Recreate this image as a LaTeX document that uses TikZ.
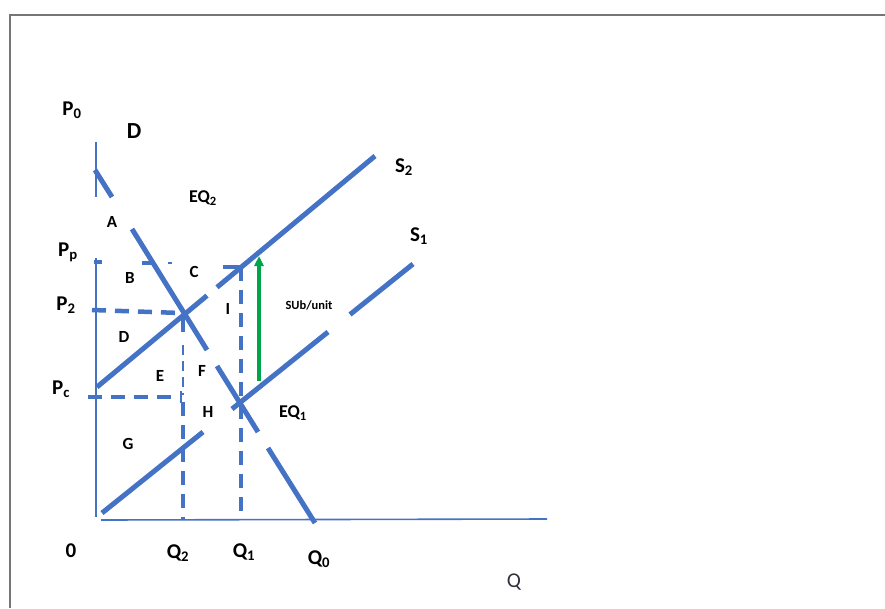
\documentclass[tikz,border=0pt]{standalone}
\usepackage{fontspec}
\setmainfont{Carlito}
\usetikzlibrary{arrows.meta}
\definecolor{ob}{RGB}{68,114,196}
\definecolor{fr}{RGB}{118,118,118}
\definecolor{gr}{RGB}{0,165,75}
\definecolor{qcol}{RGB}{50,50,60}
\begin{document}
\begin{tikzpicture}[x=1pt,y=-1pt,
  curve/.style={ob, line width=5pt},
  axisline/.style={ob, line width=1.6pt},
  dsh/.style={ob, line width=4.5pt, dash pattern=on 14pt off 9pt},
  thindsh/.style={ob, line width=1.6pt, dash pattern=on 10pt off 6pt},
  lab/.style={font=\fontsize{17}{19}\selectfont\bfseries, inner sep=0pt},
  biglab/.style={font=\fontsize{21}{24}\selectfont\bfseries, inner sep=0pt},
  smalllab/.style={font=\fontsize{12.5}{14}\selectfont\bfseries, inner sep=0pt},
]
\useasboundingbox (0,0) rectangle (885,608);
% outer frame
\draw[fr, line width=2pt] (9.5,608) -- (9.5,14.5) -- (885,14.5);

% axes
\draw[axisline] (96,142) -- (96,197);
\draw[axisline] (96,258) -- (96,517);
\draw[axisline] (101,520) -- (547,519);

% dashed guide lines
\draw[ob, line width=4.5pt] (94,262) -- (102,262);
\draw[ob, line width=4.5pt] (142,263) -- (155,263);
\draw[ob, line width=2pt] (168,263) -- (172,263);
\draw[ob, line width=4.5pt] (223,267) -- (241,267);
\draw[dsh] (92,310) -- (181,313);
\draw[dsh] (88,397) -- (181,397);
\draw[ob, line width=2pt] (181,391) -- (181,403);
\draw[ob, line width=4.5pt] (183,318) -- (183,332);
\draw[thindsh] (183,345) -- (183,395);
\draw[dsh] (183,402) -- (183,519);
\draw[dsh] (241,267) -- (241,519);

% demand curve D
\draw[curve] (95,170) -- (112,197);
\draw[curve] (132,229) -- (207,350);
\draw[curve] (217,366) -- (258,432);
\draw[curve] (268,448) -- (315,523);

% supply curve S2
\draw[curve] (97,387) -- (207,295.6);
\draw[curve] (217,287.3) -- (375,156);

% supply curve S1
\draw[curve] (102,513) -- (203,432);
\draw[curve] (232,409) -- (328,332);
\draw[curve] (350,314.5) -- (413,264);

% subsidy arrow
\draw[gr, line width=4pt, -{Triangle[length=10pt,width=9pt]}] (259,381) -- (259,256);

% labels
\node[biglab] (p0) at (72,110) {P\textsubscript{0}};
\node[font=\fontsize{23}{26}\selectfont\bfseries, inner sep=0pt] (dtop) at (134,131) {D};
\node[font=\fontsize{18}{20}\selectfont\bfseries, inner sep=0pt] (eq2) at (203,198) {EQ\textsubscript{2}};
\node[lab] (la) at (112,222) {A};
\node[biglab] (pp) at (68,252) {P\textsubscript{p}};
\node[lab] (lb) at (130,278) {B};
\node[lab] (lc) at (194,272) {C};
\node[biglab] (p2) at (66,305) {P\textsubscript{2}};
\node[lab] (li) at (228,309) {I};
\node[smalllab] (sub) at (309,305) {SUb/unit};
\node[lab] (ld) at (124,337) {D};
\node[lab] (le) at (160,376) {E};
\node[lab] (lf) at (202,371) {F};
\node[biglab] (pc) at (61,389) {P\textsubscript{c}};
\node[lab] (lh) at (208,412) {H};
\node[font=\fontsize{18}{20}\selectfont\bfseries, inner sep=0pt] (eq1) at (293,413) {EQ\textsubscript{1}};
\node[lab] (lg) at (128,444) {G};
\node[biglab] (zero) at (71,551) {0};
\node[biglab] (q2) at (178,553) {Q\textsubscript{2}};
\node[biglab] (q1) at (244,552) {Q\textsubscript{1}};
\node[biglab] (q0) at (319,559) {Q\textsubscript{0}};
\node[font=\fontsize{21}{24}\selectfont, text=qcol, inner sep=0pt] (qax) at (514,582) {Q};
\node[biglab] (s2) at (404,167) {S\textsubscript{2}};
\node[biglab] (s1) at (419,236) {S\textsubscript{1}};
\end{tikzpicture}
\end{document}
